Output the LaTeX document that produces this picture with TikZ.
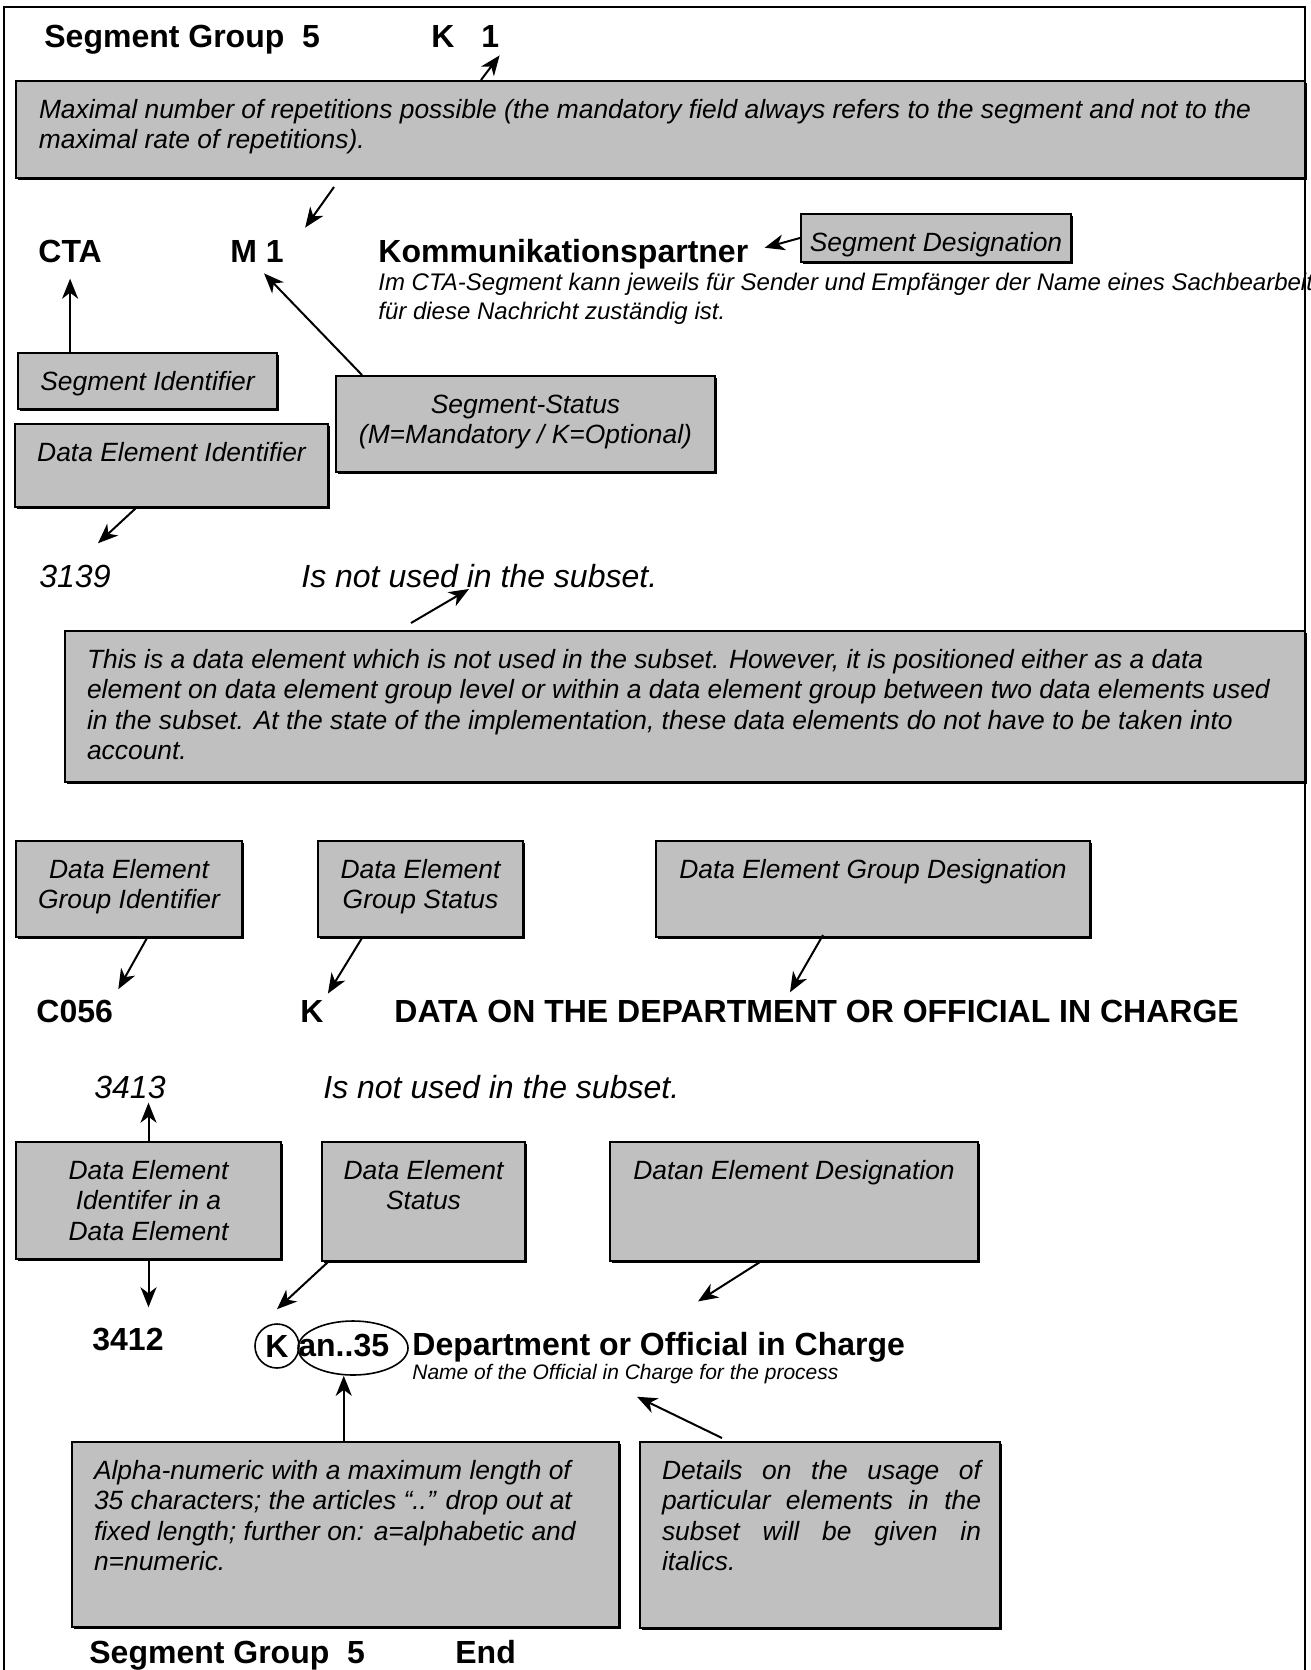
\documentclass[tikz,border=0pt]{standalone}
\usepackage{fontspec}
\setmainfont{Liberation Sans}
\usepackage{xcolor}
\definecolor{noteGray}{RGB}{192,192,192}
\usetikzlibrary{arrows.meta,shapes.geometric,shadows,calc}

\tikzset{
  note/.style={draw=black, line width=1pt, fill=noteGray, anchor=north west,
    inner xsep=2pt, inner ysep=8pt,
    font=\itshape\fontsize{13.2}{15.2}\selectfont,
    drop shadow={shadow xshift=0.8pt, shadow yshift=-0.9pt, fill=black, opacity=1}},
  lbl/.style={inner sep=0pt, anchor=base west},
  titletxt/.style={lbl, font=\bfseries\fontsize{16}{19}\selectfont},
  itxt/.style={lbl, font=\itshape\fontsize{16}{19}\selectfont},
  arr/.style={line width=1pt, -{Stealth[length=10pt, width=8pt, inset=3pt]}},
}

\begin{document}
\begin{tikzpicture}[x=0.5pt, y=-0.5pt]
  \useasboundingbox (0,0) rectangle (1311,1670);

  % Segment group head
  \node[titletxt] (sghead) at (44,47) {Segment Group~~5};
  \node[titletxt] (sgstat) at (431,47) {K};
  \node[titletxt] (sgrep) at (481,47) {1};
  \node[note] (maxrep) at (15,80) {\parbox[c][32.5pt][t]{640.5pt}{\raggedright\leftskip=9.5pt\strut Maximal number of repetitions possible (the mandatory field always refers to the segment and not to the\\maximal rate of repetitions).}};

  % Segment CTA
  \node[titletxt] (cta) at (38,262) {CTA};
  \node[titletxt] (ctastat) at (230,262) {M 1};
  \node[titletxt] (ctaname) at (378,262) {Kommunikationspartner};
  \node[lbl, anchor=north west, align=left, font=\itshape\fontsize{12}{14.5}\selectfont] (ctadesc) at (378,273)
    {Im CTA-Segment kann jeweils für Sender und Empfänger der Name eines Sachbearbeit\\für diese Nachricht zuständig ist.};
  \node[note] (segdes) at (800,213) {\parbox[c][8pt][t]{131pt}{\centering\strut Segment Designation}};
  \node[note] (segid) at (17,352) {\parbox[c][12pt][t]{125.5pt}{\centering\strut Segment Identifier}};
  \node[note] (segstat) at (335,375) {\parbox[c][32pt][t]{185.5pt}{\centering\strut Segment-Status\\(M=Mandatory / K=Optional)}};
  \node[note] (deid) at (14,423) {\parbox[c][25.5pt][t]{152.5pt}{\centering\strut Data Element Identifier}};

  % 3139
  \node[itxt] (de3139) at (39,587) {3139};
  \node[itxt] (de3139use) at (301,587) {Is not used in the subset.};
  \node[note] (unused) at (64,630) {\parbox[c][59.5pt][t]{616pt}{\raggedright\leftskip=9pt\strut This is a data element which is not used in the subset. However, it is positioned either as a data\\element on data element group level or within a data element group between two data elements used\\in the subset. At the state of the implementation, these data elements do not have to be taken into\\account.}};

  % Composite C056
  \node[note] (degid) at (15,840) {\parbox[c][32pt][t]{109pt}{\centering\strut Data Element\\Group Identifier}};
  \node[note] (degstat) at (317,840) {\parbox[c][32pt][t]{98.5pt}{\centering\strut Data Element\\Group Status}};
  \node[note] (degdes) at (655,840) {\parbox[c][32pt][t]{213pt}{\centering\strut Data Element Group Designation}};
  \node[titletxt] (c056) at (36,1022) {C056};
  \node[titletxt] (c056stat) at (300,1022) {K};
  \node[titletxt] (c056name) at (394,1022) {DATA ON THE DEPARTMENT OR OFFICIAL IN CHARGE};

  % 3413 / 3412
  \node[itxt] (de3413) at (94,1098) {3413};
  \node[itxt] (de3413use) at (323,1098) {Is not used in the subset.};
  \node[note] (deinde) at (15,1141) {\parbox[c][42.5pt][t]{128.5pt}{\centering\strut Data Element\\Identifer in a\\Data Element}};
  \node[note] (destat) at (321,1141) {\parbox[c][43.5pt][t]{97.5pt}{\centering\strut Data Element\\Status}};
  \node[note] (dedes) at (609,1141) {\parbox[c][43.5pt][t]{180pt}{\centering\strut Datan Element Designation}};
  \node[titletxt] (de3412) at (92,1350) {3412};
  \node[draw, circle, line width=0.8pt, inner sep=0pt, minimum size=22pt,
    font=\bfseries\fontsize{16}{19}\selectfont] (de3412stat) at (277,1346) {K};
  \node[draw, ellipse, line width=0.8pt, minimum width=55pt, minimum height=27pt] (fmtring) at (353,1348) {};
  \node[titletxt] (de3412fmt) at (298,1356) {an..35};
  \node[titletxt] (de3412name) at (412,1355) {Department or Official in Charge};
  \node[lbl, font=\itshape\fontsize{10.5}{12}\selectfont] (de3412desc) at (412,1379) {Name of the Official in Charge for the process};
  \node[note] (fmtnote) at (71,1441) {\parbox[c][76.5pt][t]{269.5pt}{\raggedright\leftskip=9pt\strut Alpha-numeric with a maximum length of\\35 characters; the articles “..” drop out at\\fixed length; further on: a=alphabetic and\\n=numeric.}};
  \node[note] (italnote) at (639,1441) {\parbox[c][77pt][t]{176pt}{\leftskip=9pt\rightskip=7.5pt\strut Details on the usage of\linebreak particular elements in the\linebreak subset will be given in\linebreak italics.}};

  % Segment group end
  \node[titletxt] (sgfoot) at (89,1663) {Segment Group~~5};
  \node[titletxt] (sgend) at (455,1663) {End};

  % Pointers
  \draw[arr] (maxrep.north -| sgrep.west) -- ([yshift=-4pt]sgrep.south east);
  \draw[arr] ($(maxrep.south west)+(319,8)$) -- ($(ctastat.north east)+(21,-12)$);
  \draw[arr] (segdes.west) -- ([xshift=8pt,yshift=3pt]ctaname.east);
  \draw[arr] (segid.north -| cta.south) -- ([yshift=-8pt]cta.south);
  \draw[arr] ($(segstat.north west)+(27,0)$) -- ($(ctastat.south)+(7,11)$);
  \draw[arr] ($(deid.south west)+(122,0)$) -- ($(de3139.north)+(23,-21)$);
  \draw[arr] ($(unused.north west)+(347,-7)$) -- ($(de3139use.base west)+(168,2)$);
  \draw[arr] ($(degid.south west)+(132,0)$) -- ($(c056.north east)+(5,-10)$);
  \draw[arr] ($(degstat.south west)+(45,0)$) -- ($(c056stat.north east)+(4,-6)$);
  \draw[arr] ($(degdes.south west)+(168,-3)$) -- ($(c056name.north west)+(396,-7)$);
  \draw[arr] (deinde.north) -- ([yshift=-2pt]deinde.north |- de3413.south);
  \draw[arr] (deinde.south) -- ([yshift=10pt]deinde.south |- de3412.north);
  \draw[arr] ($(destat.south west)+(7,0)$) -- ([yshift=7pt]de3412stat.north);
  \draw[arr] ($(dedes.south west)+(151,0)$) -- ($(de3412name.north west)+(286,-30)$);
  \draw[arr] (fmtnote.north -| de3412fmt.south) -- (de3412fmt.south |- fmtring.south);
  \draw[arr] ($(italnote.north west)+(83,-3)$) -- ($(de3412desc.south west)+(225,13)$);

  % frame
  \draw[line width=1.3pt] (4,1670) |- (1305,7) -- (1305,1670);
\end{tikzpicture}
\end{document}
